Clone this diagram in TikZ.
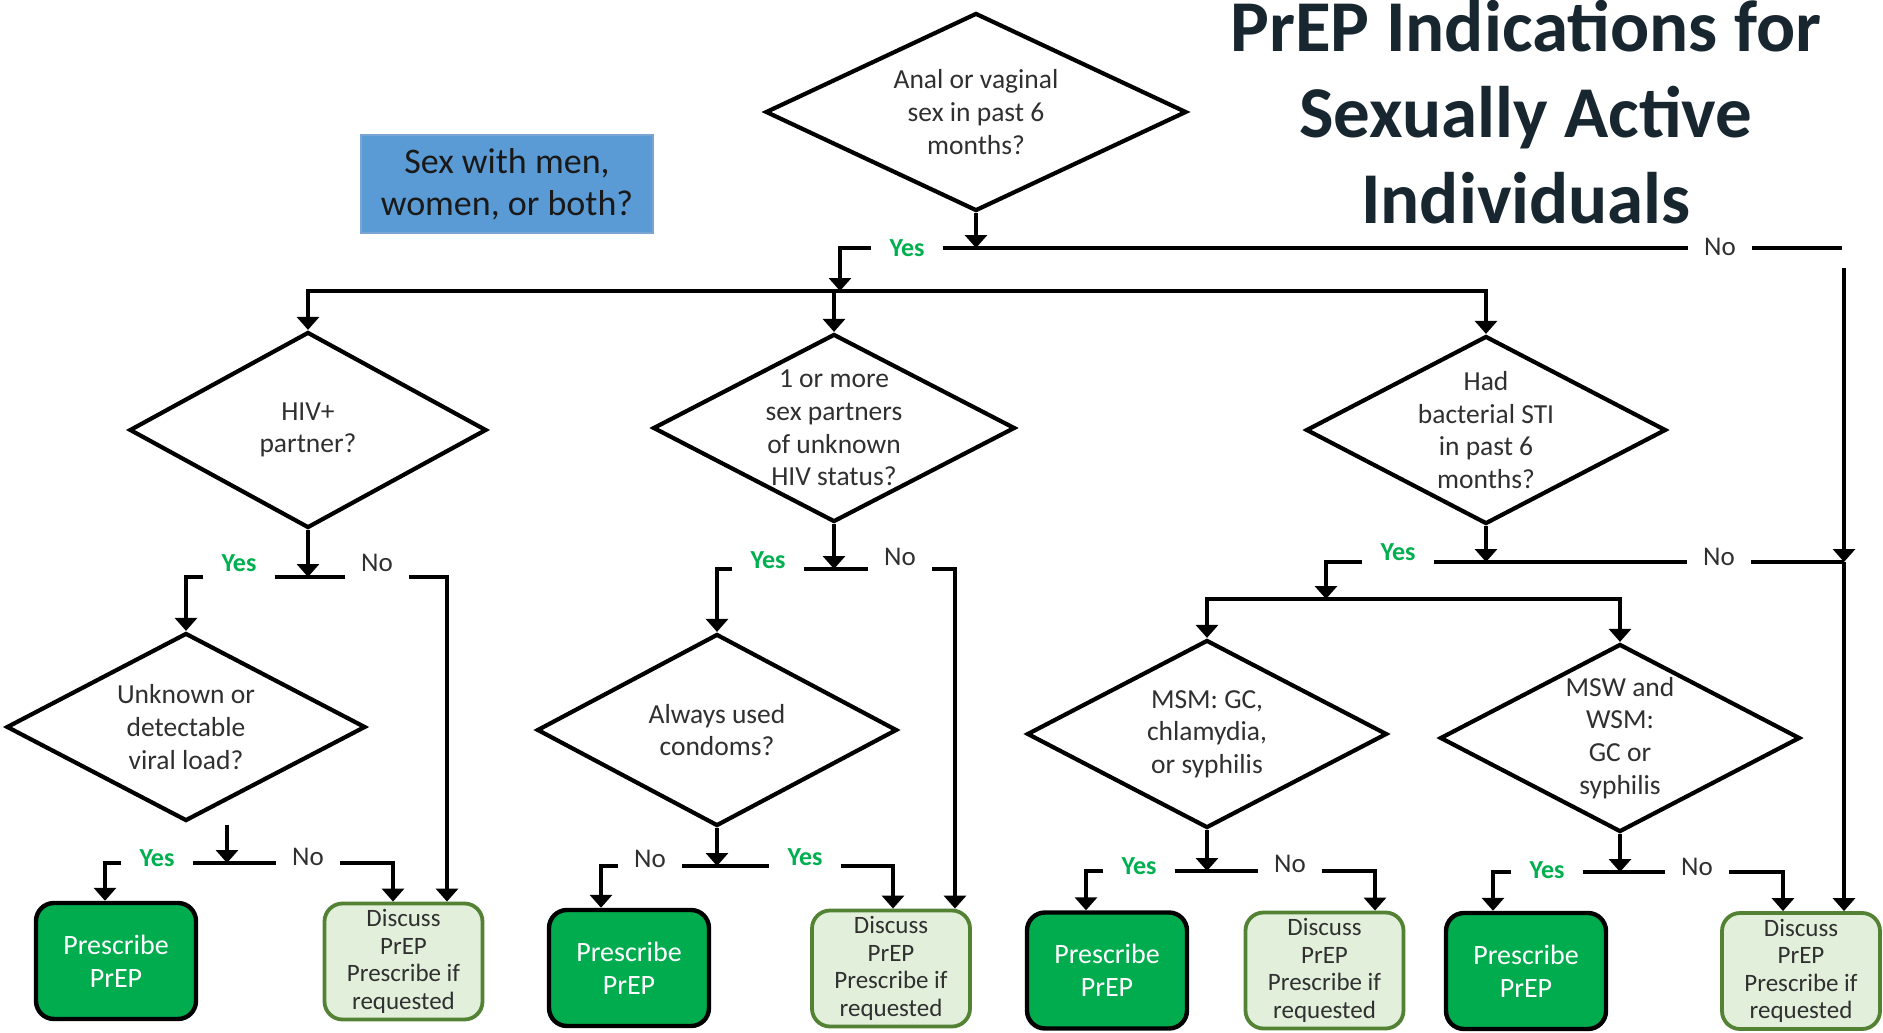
\documentclass[tikz,border=0pt]{standalone}
\usepackage{fontspec}
\setmainfont{Carlito}
\usetikzlibrary{arrows.meta,shapes.geometric,calc}
\definecolor{titleink}{RGB}{24,38,48}
\definecolor{qink}{RGB}{48,48,48}
\definecolor{yesgreen}{RGB}{0,176,80}
\definecolor{rxgreen}{RGB}{0,172,78}
\definecolor{discfill}{RGB}{226,239,218}
\definecolor{discedge}{RGB}{84,130,53}
\definecolor{qblue}{RGB}{91,155,213}
\definecolor{qblueedge}{RGB}{120,165,210}

\begin{document}
\begin{tikzpicture}[x=1pt,y=-1pt,
  wire/.style={line width=4pt},
  arr/.style={wire,-{Triangle[width=22pt,length=13pt]}},
  dia/.style={diamond,draw,line width=4.2pt,inner sep=0pt},
  qtext/.style={align=center,text=qink,font=\fontsize{27.5}{32.7}\selectfont,inner sep=0pt},
  rxbox/.style={draw=black,line width=4.4pt,fill=rxgreen,rounded corners=18pt,
    minimum width=160pt,minimum height=116pt,align=center,text=white,
    font=\fontsize{28}{33}\selectfont},
  discbox/.style={draw=discedge,line width=3.8pt,fill=discfill,rounded corners=18pt,
    minimum width=158pt,minimum height=116pt,align=center,text=qink,
    font=\fontsize{25}{27.5}\selectfont},
  yeslab/.style={text=yesgreen,font=\bfseries\fontsize{26}{30}\selectfont,
    inner xsep=18pt,inner ysep=0pt},
  nolab/.style={text=qink,font=\fontsize{27}{30}\selectfont,
    inner xsep=16pt,inner ysep=0pt},
]
\fill[white] (0,0) rectangle (1883,1033);
\useasboundingbox (0,0) rectangle (1883,1033);

% title and side note
\node[align=center,text=titleink,font=\bfseries\fontsize{73}{86}\selectfont,inner sep=0pt]
  (title) at (1526,112) {PrEP Indications for\\Sexually Active\\Individuals};
\node[fill=qblue,draw=qblueedge,line width=1.2pt,minimum width=292pt,minimum height=98pt,
  align=center,font=\fontsize{36}{41.7}\selectfont,text=black!90]
  (who) at (507,184) {Sex with men,\\women, or both?};

% decision diamonds
\node[dia,minimum width=421pt,minimum height=198pt] (q0) at (976,112) {};
\node[qtext] (q0t) at (q0) {Anal or vaginal\\sex in past 6\\months?};
\node[dia,minimum width=357pt,minimum height=196pt] (q1) at (308,430) {};
\node[qtext] (q1t) at (q1) {HIV+\\partner?};
\node[dia,minimum width=362pt,minimum height=188pt] (q2) at (834,428) {};
\node[qtext] (q2t) at (q2) {1 or more\\sex partners\\of unknown\\HIV status?};
\node[dia,minimum width=360pt,minimum height=188pt] (q3) at (1486,430) {};
\node[qtext] (q3t) at (q3) {Had\\bacterial STI\\in past 6\\months?};
\node[dia,minimum width=359pt,minimum height=188pt] (q4) at (186,727) {};
\node[qtext] (q4t) at (q4) {Unknown or\\detectable\\viral load?};
\node[dia,minimum width=360pt,minimum height=192pt] (q5) at (717,730) {};
\node[qtext] (q5t) at (q5) {Always used\\condoms?};
\node[dia,minimum width=360pt,minimum height=188pt] (q6) at (1207,734) {};
\node[qtext] (q6t) at (q6) {MSM: GC,\\chlamydia,\\or syphilis};
\node[dia,minimum width=360pt,minimum height=188pt] (q7) at (1620,738) {};
\node[qtext] (q7t) at (q7) {MSW and\\WSM:\\GC or\\syphilis};

% outcome boxes
\node[rxbox] (p1) at (116,961) {Prescribe\\PrEP};
\node[discbox] (d1) at (403.5,961.5) {Discuss\\PrEP\\Prescribe if\\requested};
\node[rxbox] (p2) at (629,968) {Prescribe\\PrEP};
\node[discbox] (d2) at (891,968.5) {Discuss\\PrEP\\Prescribe if\\requested};
\node[rxbox] (p3) at (1107,970.5) {Prescribe\\PrEP};
\node[discbox] (d3) at (1324.5,970.5) {Discuss\\PrEP\\Prescribe if\\requested};
\node[rxbox] (p4) at (1526,971) {Prescribe\\PrEP};
\node[discbox] (d4) at (1801,971) {Discuss\\PrEP\\Prescribe if\\requested};

% top question: yes / no split
\coordinate (j0) at (976,248);
\node[yeslab] (y0) at (907,248) {Yes};
\node[nolab] (n0) at (1720,247) {No};
\coordinate (c0R) at (1842,248);
\coordinate (c0V) at (1844,268);
\coordinate (busY) at (840,291);
\coordinate (busM) at (834,291);
\draw[arr] (q0.south) -- (j0);
\draw[arr] (y0.west |- j0) -| (busY);
\draw[wire] (y0.east |- j0) -- (n0.west |- j0);
\draw[wire] (n0.east |- j0) -- (c0R);
\draw[arr] (busM) -| (q1.north);
\draw[arr] (busM) -| (q3.north);
\draw[arr] (busM) -- (q2.north);

% HIV+ partner
\coordinate (j1) at (308,577);
\node[yeslab] (y1) at (239,563) {Yes};
\node[nolab] (n1) at (377,563) {No};
\coordinate (c1R) at (447,577);
\draw[arr] (q1.south) -- (j1);
\draw[arr] (y1.west |- j1) -| (q4.north);
\draw[wire] (y1.east |- j1) -- (n1.west |- j1);
\draw[arr] (n1.east |- j1) -- (c1R) -- (c1R |- d1.north);

% viral load
\coordinate (a4) at (227,825);
\coordinate (j4) at (227,863);
\node[yeslab] (y4) at (157,858) {Yes};
\node[nolab] (n4) at (308,857) {No};
\coordinate (c4L) at (105,863);
\coordinate (c4R) at (393,863);
\draw[arr] (a4) -- (j4);
\draw[arr] (y4.west |- j4) -- (c4L) -- (c4L |- p1.north);
\draw[wire] (y4.east |- j4) -- (n4.west |- j4);
\draw[arr] (n4.east |- j4) -- (c4R) -- (c4R |- d1.north);

% partners of unknown status
\coordinate (j2) at (834,569);
\node[yeslab] (y2) at (768,560) {Yes};
\node[nolab] (n2) at (900,557) {No};
\coordinate (c2R) at (955,569);
\draw[arr] (q2.south) -- (j2);
\draw[arr] (y2.west |- j2) -| (q5.north);
\draw[wire] (y2.east |- j2) -- (n2.west |- j2);
\draw[arr] (n2.east |- j2) -- (c2R) -- (c2R |- d2.north);

% condoms
\coordinate (j5) at (717,866);
\node[nolab] (n5) at (650,859) {No};
\node[yeslab] (y5) at (805,857) {Yes};
\coordinate (c5L) at (601,866);
\coordinate (c5R) at (893,866);
\draw[arr] (q5.south) -- (j5);
\draw[arr] (n5.west |- j5) -- (c5L) -- (c5L |- p2.north);
\draw[wire] (n5.east |- j5) -- (y5.west |- j5);
\draw[arr] (y5.east |- j5) -- (c5R) -- (c5R |- d2.north);

% bacterial STI
\coordinate (j3) at (1486,562);
\node[yeslab] (y3) at (1398,552) {Yes};
\node[nolab] (n3) at (1719,557) {No};
\coordinate (c3R) at (1844,562);
\coordinate (sb) at (1326,599);
\draw[arr] (q3.south) -- (j3);
\draw[arr] (y3.west |- j3) -| (sb);
\draw[wire] (y3.east |- j3) -- (n3.west |- j3);
\draw[wire] (n3.east |- j3) -- (c3R);
\draw[arr] (c0V) -- (c3R);
\draw[arr] (c3R) -- (c3R |- d4.north);
\draw[arr] (sb) -| (q6.north);
\draw[arr] (sb) -| (q7.north);

% MSM
\coordinate (j6) at (1207,871);
\node[yeslab] (y6) at (1139,866) {Yes};
\node[nolab] (n6) at (1290,864) {No};
\coordinate (c6L) at (1086,871);
\coordinate (c6R) at (1375,871);
\draw[arr] (q6.south) -- (j6);
\draw[arr] (y6.west |- j6) -- (c6L) -- (c6L |- p3.north);
\draw[wire] (y6.east |- j6) -- (n6.west |- j6);
\draw[arr] (n6.east |- j6) -- (c6R) -- (c6R |- d3.north);

% MSW and WSM
\coordinate (j7) at (1620,872);
\node[yeslab] (y7) at (1547,870) {Yes};
\node[nolab] (n7) at (1697,867) {No};
\coordinate (c7L) at (1493,872);
\coordinate (c7R) at (1783,872);
\draw[arr] (q7.south) -- (j7);
\draw[arr] (y7.west |- j7) -- (c7L) -- (c7L |- p4.north);
\draw[wire] (y7.east |- j7) -- (n7.west |- j7);
\draw[arr] (n7.east |- j7) -- (c7R) -- (c7R |- d4.north);
\end{tikzpicture}
\end{document}
